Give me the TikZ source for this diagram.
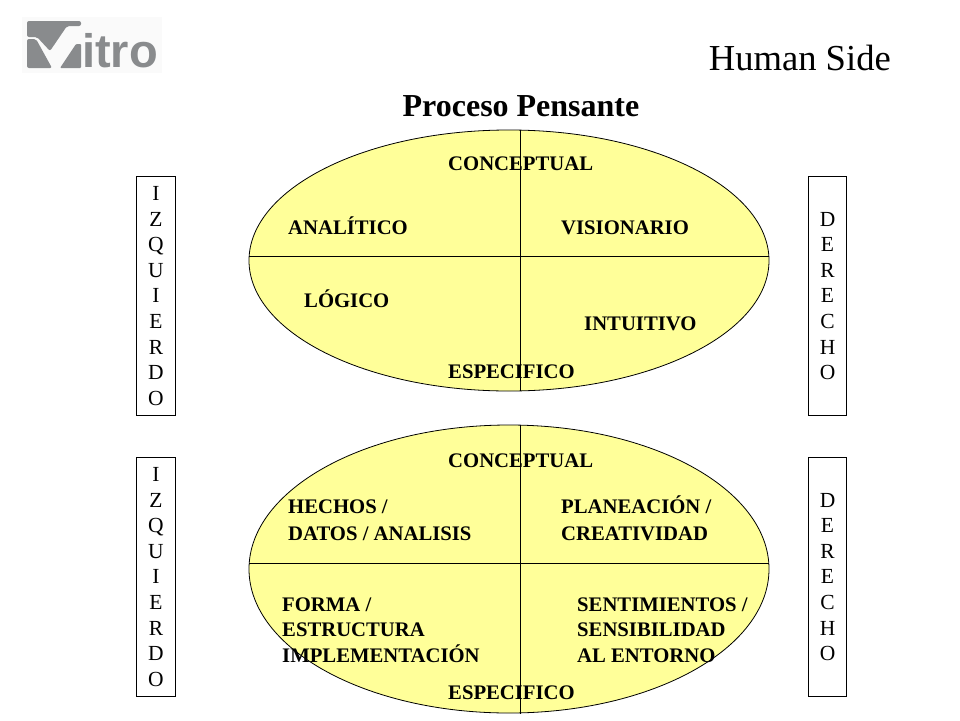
\documentclass[tikz,border=0pt]{standalone}
\usepackage{fontspec}
\usepackage{tikz}
\usetikzlibrary{shapes.geometric}
\setmainfont{Liberation Serif}
\newfontfamily\logofont{Liberation Sans}
\definecolor{elipsefill}{RGB}{255,255,153}
\definecolor{logogray}{RGB}{137,139,141}
\tikzset{
    elipse/.style={draw, line width=0.8pt, ellipse, fill=elipsefill, inner sep=0pt},
    raya/.style={line width=0.9pt},
    etiqueta/.style={anchor=base west, inner sep=0pt, font=\fontsize{20.7}{20.7}\selectfont\bfseries},
    lado/.style={draw, line width=0.9pt, minimum width=38.5pt, minimum height=238.5pt, inner sep=0pt, align=center, font=\fontsize{21.5}{25.6}\selectfont}
}
\begin{document}
\begin{tikzpicture}[x=1pt, y=-1pt]
            \useasboundingbox (0, 0) rectangle (960, 720);
            \fill[black!2] (22, 17) rectangle (162, 73);
            \begin{scope}[fill=logogray]
                \fill[rounded corners=2pt] (27, 37) -- (27, 21) -- (81, 21) -- (81, 26) -- (67, 26) -- (50, 51) -- (37, 37) -- cycle;
                \fill[rounded corners=2pt] (27, 39) -- (36, 39) -- (52, 68) -- (27, 68) -- cycle;
                \fill[rounded corners=1pt] (60, 68) -- (76, 44) -- (81, 44) -- (81, 68) -- cycle;
            \end{scope}
            \node[anchor=base west, inner sep=0pt, text=logogray, font=\fontsize{47}{47}\selectfont\logofont\bfseries] (logo) at (82, 67) {itro};

            \node[anchor=base east, inner sep=0pt, font=\fontsize{36.6}{36.6}\selectfont] (lado) at (891, 70) {Human Side};
            \node[anchor=base, inner sep=0pt, font=\fontsize{32}{32}\selectfont\bfseries] (titulo) at (521, 116) {Proceso Pensante};

            \node[elipse, minimum width=520pt, minimum height=261pt] (elipseA) at (509, 260.5) {};
            \node[elipse, minimum width=520pt, minimum height=288pt] (elipseB) at (509, 569) {};

            \coordinate (aN) at (520, 130);
            \coordinate (aS) at (520, 391);
            \coordinate (aW) at (249, 256);
            \coordinate (aE) at (769, 256);
            \coordinate (bN) at (520, 425);
            \coordinate (bS) at (520, 714);
            \coordinate (bW) at (249, 563);
            \coordinate (bE) at (769, 563);
            \draw[raya] (aN) -- (aS);
            \draw[raya] (aW) -- (aE);
            \draw[raya] (bN) -- (bS);
            \draw[raya] (bW) -- (bE);

            \node[etiqueta] (concA) at (448, 170) {CONCEPTUAL};
            \node[etiqueta] (analitico) at (288, 234) {ANALÍTICO};
            \node[etiqueta] (visionario) at (561, 234) {VISIONARIO};
            \node[etiqueta] (logico) at (304, 307) {LÓGICO};
            \node[etiqueta] (intuitivo) at (584, 330) {INTUITIVO};
            \node[etiqueta] (espA) at (448, 378) {ESPECIFICO};

            \node[etiqueta] (concB) at (448, 467) {CONCEPTUAL};
            \node[etiqueta] (hechos) at (288, 513) {HECHOS /};
            \node[etiqueta] (datos) at (288, 540) {DATOS / ANALISIS};
            \node[etiqueta] (planeacion) at (561, 513) {PLANEACIÓN /};
            \node[etiqueta] (creatividad) at (561, 540) {CREATIVIDAD};
            \node[etiqueta] (forma) at (282, 611) {FORMA /};
            \node[etiqueta] (estructura) at (282, 636) {ESTRUCTURA};
            \node[etiqueta] (implementacion) at (282, 662) {IMPLEMENTACIÓN};
            \node[etiqueta] (sentimientos) at (577, 611) {SENTIMIENTOS /};
            \node[etiqueta] (sensibilidad) at (577, 636) {SENSIBILIDAD};
            \node[etiqueta] (entorno) at (577, 662) {AL ENTORNO};
            \node[etiqueta] (espB) at (448, 699) {ESPECIFICO};

            \node[lado] (izqA) at (156, 296) {I\\Z\\Q\\U\\I\\E\\R\\D\\O};
            \node[lado] (derA) at (827.5, 296) {D\\E\\R\\E\\C\\H\\O};
            \node[lado] (izqB) at (156, 577) {I\\Z\\Q\\U\\I\\E\\R\\D\\O};
            \node[lado] (derB) at (827.5, 577) {D\\E\\R\\E\\C\\H\\O};
        \end{tikzpicture}
\end{document}
